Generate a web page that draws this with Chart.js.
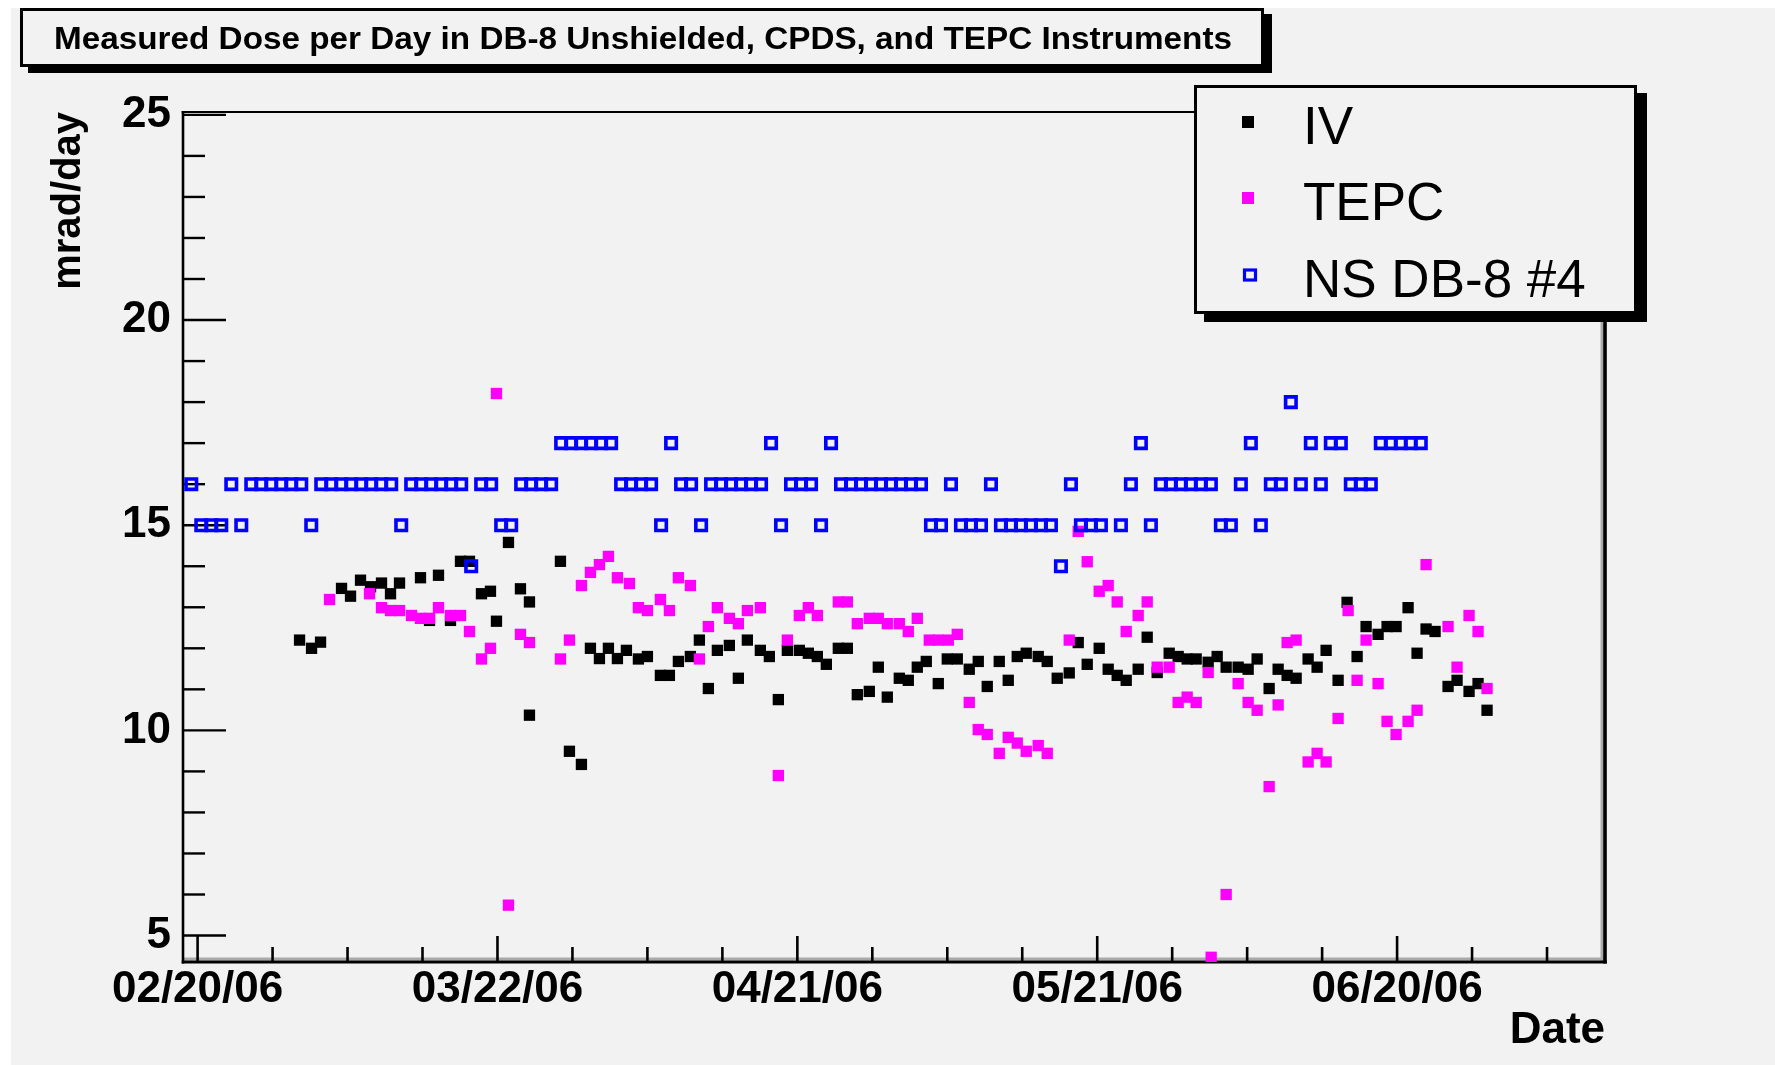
<!DOCTYPE html>
<html>
<head>
<meta charset="utf-8">
<title>Measured Dose per Day</title>
<script src="https://cdn.jsdelivr.net/npm/chart.js@4.4.1/dist/chart.umd.min.js"></script>
<style>
  html, body { margin: 0; padding: 0; background: #ffffff; overflow: hidden; }
  canvas { display: block; }
</style>
</head>
<body>
<canvas id="c" width="1775" height="1065"></canvas>
<script>
// ---------------- DATA (x = days after 02/20/06 00:00) ----------------
const chartTitle = 'Measured Dose per Day in DB-8 Unshielded, CPDS, and TEPC Instruments';
const seriesNames = ['IV', 'TEPC', 'NS DB-8 #4'];
const xTitle = 'Date';
const yTitle = 'mrad/day';
const dateOrigin = [2006, 1, 20];   // 02/20/06
const yTickLabels = [5, 10, 15, 20, 25];

const ivX = [10.2, 11.4, 12.3, 14.4, 15.3, 16.3, 17.3, 18.4, 19.3, 20.2,
  22.3, 23.2, 24.1, 25.3, 26.3, 27.2, 28.4, 29.3, 29.9, 31.1,
  32.3, 33.2, 33.2, 36.3, 37.2, 38.4, 39.3, 40.2, 41.1, 42.0,
  42.9, 44.1, 45.0, 46.3, 47.2, 48.1, 49.3, 50.2, 51.1, 52.0,
  53.2, 54.1, 55.0, 56.3, 57.2, 58.1, 59.0, 60.2, 61.1, 62.0,
  62.9, 64.1, 65.0, 66.0, 67.2, 68.1, 69.0, 70.2, 71.1, 72.0,
  72.9, 74.1, 75.0, 76.0, 77.2, 78.1, 79.0, 80.2, 81.1, 82.0,
  82.9, 84.1, 85.0, 86.0, 87.2, 88.1, 89.0, 90.2, 91.1, 92.0,
  92.9, 94.1, 95.0, 96.0, 97.2, 98.1, 99.0, 99.9, 101.1, 102.0,
  102.9, 104.1, 105.1, 106.0, 107.2, 108.1, 109.0, 109.9, 111.1, 112.0,
  112.9, 114.1, 115.0, 116.0, 116.9, 118.1, 119.0, 119.9, 121.1, 122.0,
  122.9, 123.8, 125.1, 126.0, 127.2, 128.1, 129.0];
const ivY = [12.2, 12.0, 12.15, 13.46, 13.27, 13.66, 13.5, 13.59, 13.33, 13.59,
  13.72, 12.68, 13.78, 12.68, 14.12, 14.12, 13.33, 13.39, 12.66, 14.58,
  13.45, 13.13, 10.37, 14.12, 9.49, 9.17, 12.0, 11.75, 12.0, 11.75,
  11.95, 11.74, 11.8, 11.34, 11.34, 11.68, 11.8, 12.2, 11.02, 11.95,
  12.07, 11.27, 12.2, 11.95, 11.8, 10.75, 11.95, 11.95, 11.88, 11.8,
  11.61, 12.0, 12.0, 10.87, 10.95, 11.54, 10.81, 11.27, 11.22, 11.54,
  11.68, 11.14, 11.74, 11.74, 11.49, 11.68, 11.07, 11.68, 11.22, 11.8,
  11.88, 11.8, 11.68, 11.27, 11.4, 12.14, 11.61, 12.0, 11.49, 11.34,
  11.22, 11.49, 12.27, 11.41, 11.88, 11.8, 11.74, 11.74, 11.66, 11.8,
  11.54, 11.54, 11.49, 11.74, 11.02, 11.49, 11.34, 11.27, 11.74, 11.54,
  11.95, 11.22, 13.12, 11.8, 12.53, 12.34, 12.53, 12.53, 12.99, 11.88,
  12.47, 12.41, 11.07, 11.22, 10.95, 11.14, 10.49];

const tepcX = [13.2, 17.2, 18.4, 19.3, 20.2, 21.4, 22.3, 23.2, 24.1, 25.3,
  26.3, 27.2, 28.4, 29.3, 29.9, 31.1, 32.3, 33.2, 36.3, 37.2,
  38.4, 39.3, 40.2, 41.1, 42.0, 43.2, 44.1, 45.0, 46.3, 47.2,
  48.1, 49.3, 50.2, 51.1, 52.0, 53.2, 54.1, 55.0, 56.3, 58.1,
  59.0, 60.2, 61.1, 62.0, 64.1, 65.0, 66.0, 67.2, 68.1, 69.0,
  70.2, 71.1, 72.0, 73.2, 74.1, 75.1, 76.0, 77.2, 78.1, 79.0,
  80.2, 81.1, 82.0, 82.9, 84.1, 85.0, 87.2, 88.1, 89.0, 90.2,
  91.1, 92.0, 92.9, 94.1, 95.0, 96.0, 97.2, 98.1, 99.0, 99.9,
  101.1, 101.4, 102.9, 104.1, 105.1, 106.0, 107.2, 108.1, 109.0, 109.9,
  111.1, 112.0, 112.9, 114.1, 115.1, 116.0, 116.9, 118.1, 119.0, 119.9,
  121.1, 122.0, 122.9, 125.1, 126.0, 127.2, 128.1, 129.0];
const tepcY = [13.19, 13.33, 12.99, 12.92, 12.92, 12.8, 12.73, 12.73, 12.99, 12.8,
  12.8, 12.41, 11.74, 12.0, 18.21, 5.74, 12.34, 12.14, 11.74, 12.2,
  13.53, 13.85, 14.04, 14.24, 13.72, 13.58, 12.99, 12.92, 13.19, 12.92,
  13.72, 13.53, 11.74, 12.53, 12.99, 12.73, 12.6, 12.92, 12.99, 8.9,
  12.2, 12.8, 12.99, 12.8, 13.13, 13.13, 12.6, 12.73, 12.73, 12.6,
  12.6, 12.41, 12.73, 12.2, 12.2, 12.2, 12.34, 10.68, 10.02, 9.9,
  9.44, 9.83, 9.69, 9.49, 9.63, 9.44, 12.2, 14.85, 14.11, 13.39,
  13.53, 13.13, 12.41, 12.8, 13.13, 11.54, 11.54, 10.68, 10.81, 10.68,
  11.41, 4.47, 6.0, 11.14, 10.68, 10.49, 8.63, 10.62, 12.14, 12.2,
  9.23, 9.44, 9.23, 10.29, 12.92, 11.22, 12.2, 11.14, 10.22, 9.9,
  10.22, 10.49, 14.04, 12.53, 11.54, 12.8, 12.41, 11.02];

// NS DB-8 #4: one reading per day, first at day -0.63 (null = no reading)
const nsStart = -0.63;
const nsVal = [16, 15, 15, 15, 16, 15, 16, 16, 16, 16,
  16, 16, 15, 16, 16, 16, 16, 16, 16, 16,
  16, 15, 16, 16, 16, 16, 16, 16, 14, 16,
  16, 15, 15, 16, 16, 16, 16, 17, 17, 17,
  17, 17, 17, 16, 16, 16, 16, 15, 17, 16,
  16, 15, 16, 16, 16, 16, 16, 16, 17, 15,
  16, 16, 16, 15, 17, 16, 16, 16, 16, 16,
  16, 16, 16, 16, 15, 15, 16, 15, 15, 15,
  16, 15, 15, 15, 15, 15, 15, 14, 16, 15,
  15, 15, null, 15, 16, 17, 15, 16, 16, 16,
  16, 16, 16, 15, 15, 16, 17, 15, 16, 16,
  18, 16, 17, 16, 17, 17, 16, 16, 16, 17,
  17, 17, 17, 17];

// ---------------- CHART ----------------
const FONT = '"Liberation Sans", Arial, Helvetica, sans-serif';
const BG = '#f2f2f2';
const colors = ['#000000', '#ff00ff', '#0000ff'];

function fmtDate(v) {
  const d = new Date(Date.UTC(dateOrigin[0], dateOrigin[1], dateOrigin[2]) + v * 86400000);
  const mm = String(d.getUTCMonth() + 1).padStart(2, '0');
  const dd = String(d.getUTCDate()).padStart(2, '0');
  const yy = String(d.getUTCFullYear() % 100).padStart(2, '0');
  return mm + '/' + dd + '/' + yy;
}

const rootStyle = {
  id: 'rootStyle',
  beforeDraw(chart) {
    const ctx = chart.ctx;
    ctx.save();
    ctx.fillStyle = '#ffffff';
    ctx.fillRect(0, 0, chart.width, chart.height);
    ctx.fillStyle = BG;
    ctx.fillRect(11, 8, chart.width - 11, chart.height - 8);
    ctx.restore();
  },
  beforeDatasetsDraw(chart) {
    const ctx = chart.ctx;
    const {left, right, top, bottom} = chart.chartArea;
    const xs = chart.scales.x, ys = chart.scales.y;
    ctx.save();
    // inner grey shading of the frame
    ctx.fillStyle = '#a9a9a9';
    ctx.fillRect(right - 4.5, top, 3, bottom - top);
    ctx.fillRect(left, bottom - 4.5, right - left, 3);
    // frame
    ctx.strokeStyle = '#000';
    ctx.lineCap = 'butt';
    const line = (x1, y1, x2, y2, w) => {
      ctx.lineWidth = w; ctx.beginPath(); ctx.moveTo(x1, y1); ctx.lineTo(x2, y2); ctx.stroke();
    };
    line(left, top - 1, left, bottom + 1.5, 2.6);
    line(left - 1.3, bottom, right + 1.8, bottom, 3);
    line(right, top - 1, right, bottom + 1.5, 3.6);
    line(left - 1.3, top, right + 1.8, top, 2);
    // ticks drawn inwards
    xs.ticks.forEach(t => {
      const px = xs.getPixelForValue(t.value);
      const major = Math.abs(t.value / 30 - Math.round(t.value / 30)) < 1e-6;
      line(px, bottom, px, bottom - (major ? 26 : 15), 2.6);
    });
    ys.ticks.forEach(t => {
      const py = ys.getPixelForValue(t.value);
      const major = yTickLabels.includes(t.value);
      line(left, py, left + (major ? 43 : 22), py, 2.4);
    });
    ctx.restore();
  },
  afterDraw(chart) {
    const ctx = chart.ctx;
    ctx.save();
    // ---- title box ----
    const tb = {x: 20, y: 8, w: 1244, h: 59};
    ctx.fillStyle = '#000';
    ctx.fillRect(tb.x + 8, tb.y + 6, tb.w, tb.h);
    ctx.fillStyle = BG;
    ctx.fillRect(tb.x, tb.y, tb.w, tb.h);
    ctx.strokeStyle = '#000';
    ctx.lineWidth = 3;
    ctx.strokeRect(tb.x + 1.5, tb.y + 1.5, tb.w - 3, tb.h - 3);
    ctx.font = 'bold 31px ' + FONT;
    ctx.fillStyle = '#000';
    ctx.textBaseline = 'middle';
    ctx.textAlign = 'left';
    const tw = ctx.measureText(chartTitle).width;
    const target = 1178;
    ctx.save();
    ctx.translate(54, 40);
    ctx.scale(target / tw, 1);
    ctx.fillText(chartTitle, 0, 0);
    ctx.restore();

    // ---- legend box ----
    const lb = {x: 1194, y: 85, w: 443, h: 229};
    ctx.fillStyle = '#000';
    ctx.fillRect(lb.x + 10, lb.y + 8, lb.w, lb.h);
    ctx.fillStyle = BG;
    ctx.fillRect(lb.x, lb.y, lb.w, lb.h);
    ctx.lineWidth = 3;
    ctx.strokeRect(lb.x + 1.5, lb.y + 1.5, lb.w - 3, lb.h - 3);
    const rowsY = [122, 198, 275];
    const metas = chart.data.datasets;
    ctx.font = '53px ' + FONT;
    ctx.textBaseline = 'alphabetic';
    for (let i = 0; i < 3; i++) {
      const cy = rowsY[i];
      if (i < 2) {
        ctx.fillStyle = colors[i];
        ctx.fillRect(1242, cy - 6, 12, 12);
      } else {
        ctx.strokeStyle = colors[i];
        ctx.lineWidth = 3.2;
        ctx.strokeRect(1244.5, cy - 5, 11, 10);
      }
      ctx.fillStyle = '#000';
      ctx.fillText(metas[i].label, 1303, cy + 22);
    }
    ctx.restore();
  }
};

const tickFont = {family: FONT, size: 44, weight: 'bold'};

new Chart(document.getElementById('c'), {
  type: 'scatter',
  data: {
    datasets: [
      {
        label: seriesNames[0],
        data: ivX.map((x, i) => ({x: x, y: ivY[i]})),
        pointStyle: 'rect', pointRadius: 8, pointHoverRadius: 8,
        backgroundColor: colors[0], borderColor: colors[0], borderWidth: 0,
        order: 3
      },
      {
        label: seriesNames[1],
        data: tepcX.map((x, i) => ({x: x, y: tepcY[i]})),
        pointStyle: 'rect', pointRadius: 8, pointHoverRadius: 8,
        backgroundColor: colors[1], borderColor: colors[1], borderWidth: 0,
        order: 2
      },
      {
        label: seriesNames[2],
        data: nsVal.map((v, i) => ({x: nsStart + i, y: v})).filter(p => p.y !== null),
        pointStyle: 'rect', pointRadius: 7.4, pointHoverRadius: 7.4,
        backgroundColor: 'rgba(0,0,0,0)', borderColor: colors[2], borderWidth: 3.6,
        order: 1
      }
    ]
  },
  options: {
    responsive: false,
    animation: false,
    devicePixelRatio: 1,
    events: [],
    layout: {padding: {left: 0, top: 112, right: 170, bottom: 0}},
    plugins: {legend: {display: false}, tooltip: {enabled: false}, title: {display: false}},
    scales: {
      x: {
        type: 'linear',
        min: -1.46, max: 140.8,
        grid: {display: false, drawTicks: false},
        border: {display: false},
        ticks: {
          stepSize: 7.5, includeBounds: false, autoSkip: false, maxRotation: 0,
          color: '#000', font: tickFont, padding: 1,
          callback: v => (Math.abs(v / 30 - Math.round(v / 30)) < 1e-6 ? fmtDate(v) : '')
        },
        title: {display: true, text: xTitle, align: 'end', color: '#000',
          font: {family: FONT, size: 44, weight: 'bold'}, padding: {top: 0, bottom: 8}},
        afterFit: s => { s.height = 103; }
      },
      y: {
        type: 'linear',
        min: 4.355, max: 25.07,
        grid: {display: false, drawTicks: false},
        border: {display: false},
        ticks: {
          stepSize: 1, includeBounds: false, autoSkip: false,
          color: '#000', font: tickFont, padding: 12,
          callback: v => (yTickLabels.includes(v) ? String(v) : '')
        },
        title: {display: true, text: yTitle, align: 'end', color: '#000',
          font: {family: FONT, size: 40, weight: 'bold'}, padding: {top: 45, bottom: 0}},
        afterFit: s => { s.width = 183; }
      }
    }
  },
  plugins: [rootStyle]
});
</script>
</body>
</html>
